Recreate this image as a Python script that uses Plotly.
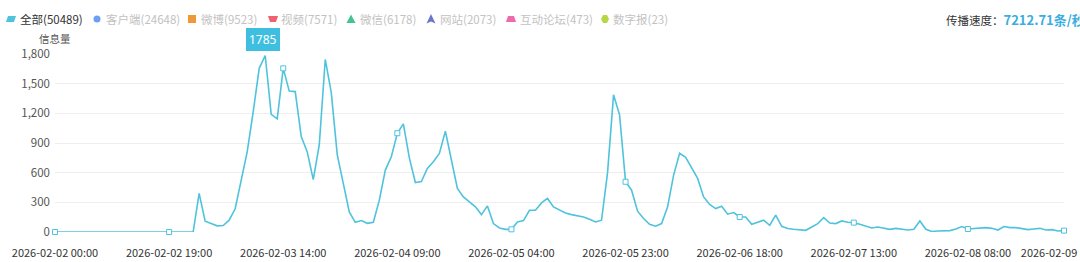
import pandas as pd
import plotly.graph_objects as go

# ---------------- data ----------------
start_time = "2026-02-02 00:00"
values = [
    0, 0, 0, 0, 0, 0, 0, 0, 0, 0, 0, 0, 0, 0, 0, 0, 0, 0, 0, 0, 0, 0, 0, 0,          # 0-23
    390, 110, 85, 62, 65, 120, 235, 530, 810, 1215, 1655, 1785,                     # 24-35
    1190, 1145, 1655, 1425, 1420, 965, 810, 530, 880, 1745, 1410, 780,              # 36-47
    505, 203, 98, 116, 88, 98, 322, 626, 761, 999, 1093, 750,                       # 48-59
    500, 510, 643, 710, 795, 1020, 728, 441, 355, 304, 254, 176,                    # 60-71
    264, 85, 41, 27, 27, 101, 116, 220, 220, 294, 339, 254,                         # 72-83
    220, 193, 176, 162, 152, 129, 101, 119, 600, 1387, 1185, 508,                   # 84-95
    423, 210, 136, 78, 58, 85, 254, 575, 796, 755, 654, 542,                        # 96-107
    355, 278, 237, 261, 180, 197, 152, 152, 78, 101, 119, 68,                       # 108-119
    170, 58, 35, 28, 20, 17, 51, 85, 146, 91, 85, 112,                              # 120-131
    98, 95, 78, 58, 41, 51, 37, 27, 37, 27, 20, 27,                                 # 132-143
    112, 27, 5, 10, 10, 14, 30, 55, 30, 37, 41, 44,                                 # 144-155
    37, 20, 55, 44, 44, 37, 24, 30, 37, 20, 24, 10, 14,                             # 156-168
]
times = pd.date_range(start_time, periods=len(values), freq="h")
time_labels = [t.strftime("%Y-%m-%d %H:%M") for t in times]

label_step = 19
tick_idx = list(range(0, len(values), label_step))
if tick_idx[-1] != len(values) - 1:
    tick_idx.append(len(values) - 1)

legend_names = ["全部", "客户端", "微博", "视频", "微信", "网站", "互动论坛", "数字报"]
legend_counts = [50489, 24648, 9523, 7571, 6178, 2073, 473, 23]
speed_value = "7212.71"
y_ticks = [0, 300, 600, 900, 1200, 1500, 1800]

# ---------------- style ----------------
LINE = "#4fc3dc"
TIP = "#3ebfe0"
W, H = 1080, 262
L, R, T, B = 55, 1064, 54, 232

def px(x):
    return (x - L) / (R - L)

def py(y):
    return (B - y) / (B - T)

fig = go.Figure()
xs = list(range(len(values)))
fig.add_trace(go.Scatter(
    x=xs, y=values, mode="lines",
    line=dict(color=LINE, width=1.6), cliponaxis=False,
    hoverinfo="skip", showlegend=False,
))
fig.add_trace(go.Scatter(
    x=tick_idx, y=[values[i] for i in tick_idx], mode="markers",
    marker=dict(symbol="square", size=5, color="white", line=dict(color=LINE, width=1)),
    cliponaxis=False, hoverinfo="skip", showlegend=False,
))

# peak tooltip
peak_i = max(range(len(values)), key=lambda i: values[i])
fig.add_annotation(
    x=peak_i, y=values[peak_i], text=str(values[peak_i]), showarrow=False,
    yanchor="bottom", yshift=4, xshift=-2, bgcolor=TIP, bordercolor=TIP, borderpad=2,
    font=dict(family="Noto Sans, DejaVu Sans", size=12, color="white"),
)
fig.add_shape(
    type="path", xref="x", yref="y", xsizemode="pixel", ysizemode="pixel",
    xanchor=peak_i, yanchor=values[peak_i], path="M-4,8 L4,8 L0,3 Z",
    fillcolor=TIP, line=dict(width=0),
)

# legend (drawn manually)
FONT = "Noto Sans CJK SC, Noto Sans, sans-serif"
icon_x = [11, 97, 192, 273, 351, 431, 511, 605]
text_x = [18, 104, 199, 279, 358, 438, 518, 611]
icon_c = [LINE, "#6e9ef2", "#f0973a", "#f0626f", "#41c48f", "#6b76c8", "#ee6aa9", "#b6d646"]
ly = 19
for k, (name, cnt) in enumerate(zip(legend_names, legend_counts)):
    fig.add_annotation(
        xref="paper", yref="paper", x=px(text_x[k]), y=py(ly),
        xanchor="left", yanchor="middle", showarrow=False,
        text=f"{name}({cnt})",
        font=dict(family=FONT, size=11.5, color="#333333" if k == 0 else "#c2c2c2"),
    )
    cx, cy, c = icon_x[k], ly, icon_c[k]
    if k == 0:
        path = f"M{px(cx-3)},{py(cy-3)} L{px(cx+5)},{py(cy-3)} L{px(cx+3)},{py(cy+3)} L{px(cx-5)},{py(cy+3)} Z"
    elif k in (1,):
        fig.add_shape(type="circle", xref="paper", yref="paper",
                      x0=px(cx-3.5), x1=px(cx+3.5), y0=py(cy-3.5), y1=py(cy+3.5),
                      fillcolor=c, line=dict(width=0))
        continue
    elif k == 7:
        path = (f"M{px(cx-2)},{py(cy-4)} L{px(cx+2)},{py(cy-4)} L{px(cx+4)},{py(cy)} "
                f"L{px(cx+2)},{py(cy+4)} L{px(cx-2)},{py(cy+4)} L{px(cx-4)},{py(cy)} Z")
    elif k == 2:
        path = f"M{px(cx-4)},{py(cy-4)} L{px(cx+4)},{py(cy-4)} L{px(cx+4)},{py(cy+4)} L{px(cx-4)},{py(cy+4)} Z"
    elif k == 3:
        path = f"M{px(cx-5)},{py(cy-3)} L{px(cx+5)},{py(cy-3)} L{px(cx+3)},{py(cy+3)} L{px(cx-3)},{py(cy+3)} Z"
    elif k == 4:
        path = f"M{px(cx)},{py(cy-4.5)} L{px(cx+4.5)},{py(cy+4)} L{px(cx-4.5)},{py(cy+4)} Z"
    elif k == 5:
        path = f"M{px(cx)},{py(cy-5)} L{px(cx+4.5)},{py(cy+4.5)} L{px(cx)},{py(cy+2.5)} L{px(cx-4.5)},{py(cy+4.5)} Z"
    else:
        path = f"M{px(cx-3)},{py(cy-3)} L{px(cx+3)},{py(cy-3)} L{px(cx+5)},{py(cy+3)} L{px(cx-5)},{py(cy+3)} Z"
    fig.add_shape(type="path", xref="paper", yref="paper", path=path,
                  fillcolor=c, line=dict(width=0))

# speed text
fig.add_annotation(
    xref="paper", yref="paper", x=px(944), y=py(ly), xanchor="left", yanchor="middle",
    showarrow=False,
    text=f"<span style='color:#333333;font-size:11.5px'>传播速度：</span><b>{speed_value}条/秒</b>",
    font=dict(family=FONT, size=13, color="#3aaee0"),
)

# y axis name
fig.add_annotation(
    xref="paper", yref="paper", x=px(55), y=py(38), xanchor="center", yanchor="middle",
    showarrow=False, text="信息量",
    font=dict(family=FONT, size=10.5, color="#555555"),
)

fig.update_layout(
    width=W, height=H,
    margin=dict(l=L, r=W - R, t=T, b=H - B, pad=0, autoexpand=False),
    paper_bgcolor="white", plot_bgcolor="white",
    showlegend=False,
    font=dict(family=FONT, size=12, color="#333333"),
    xaxis=dict(
        range=[0, len(values) - 1], tickmode="array", tickvals=tick_idx,
        ticktext=[time_labels[i] for i in tick_idx], showgrid=False, zeroline=False,
        showline=False, ticks="", tickfont=dict(size=11, color="#333333"),
        ticklabelstandoff=13, ticklabeloverflow="allow", automargin=False,
        fixedrange=True,
    ),
    yaxis=dict(
        range=[0, 1800], tickmode="array", tickvals=y_ticks, tickformat=",",
        showgrid=True, gridcolor="#eeeeee", gridwidth=1, zeroline=False,
        showline=False, ticks="", tickfont=dict(size=11.5, color="#555555"),
        ticklabelstandoff=4, automargin=False, fixedrange=True,
    ),
)

fig.write_html("out.html")
